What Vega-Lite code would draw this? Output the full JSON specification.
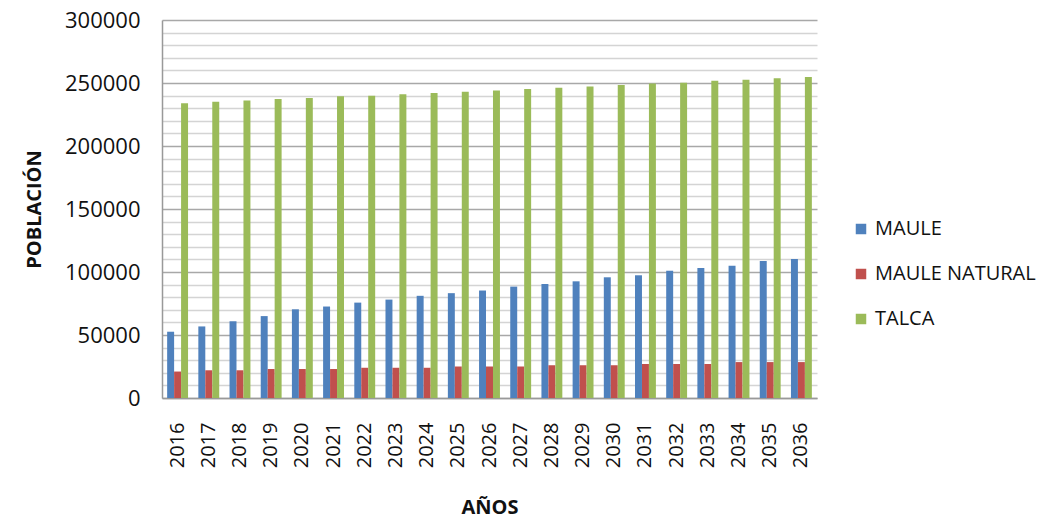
{
  "$schema": "https://vega.github.io/schema/vega-lite/v6.json",
  "width": 655,
  "height": 378,
  "autosize": {"type": "none"},
  "padding": {"left": 162, "top": 20, "right": 238, "bottom": 129},
  "background": "white",
  "config": {"font": "Open Sans", "view": {"stroke": null}},
  "data": {"values": [
    {"year": "2016", "serie": "MAULE", "value": 52600},
    {"year": "2017", "serie": "MAULE", "value": 56800},
    {"year": "2018", "serie": "MAULE", "value": 60900},
    {"year": "2019", "serie": "MAULE", "value": 65000},
    {"year": "2020", "serie": "MAULE", "value": 70400},
    {"year": "2021", "serie": "MAULE", "value": 72600},
    {"year": "2022", "serie": "MAULE", "value": 75700},
    {"year": "2023", "serie": "MAULE", "value": 78100},
    {"year": "2024", "serie": "MAULE", "value": 81100},
    {"year": "2025", "serie": "MAULE", "value": 83200},
    {"year": "2026", "serie": "MAULE", "value": 85300},
    {"year": "2027", "serie": "MAULE", "value": 88400},
    {"year": "2028", "serie": "MAULE", "value": 90500},
    {"year": "2029", "serie": "MAULE", "value": 92600},
    {"year": "2030", "serie": "MAULE", "value": 95800},
    {"year": "2031", "serie": "MAULE", "value": 97400},
    {"year": "2032", "serie": "MAULE", "value": 101000},
    {"year": "2033", "serie": "MAULE", "value": 103200},
    {"year": "2034", "serie": "MAULE", "value": 105000},
    {"year": "2035", "serie": "MAULE", "value": 108700},
    {"year": "2036", "serie": "MAULE", "value": 110300},
    {"year": "2016", "serie": "MAULE NATURAL", "value": 21000},
    {"year": "2017", "serie": "MAULE NATURAL", "value": 22000},
    {"year": "2018", "serie": "MAULE NATURAL", "value": 22000},
    {"year": "2019", "serie": "MAULE NATURAL", "value": 23000},
    {"year": "2020", "serie": "MAULE NATURAL", "value": 23000},
    {"year": "2021", "serie": "MAULE NATURAL", "value": 23000},
    {"year": "2022", "serie": "MAULE NATURAL", "value": 24000},
    {"year": "2023", "serie": "MAULE NATURAL", "value": 24000},
    {"year": "2024", "serie": "MAULE NATURAL", "value": 24000},
    {"year": "2025", "serie": "MAULE NATURAL", "value": 25000},
    {"year": "2026", "serie": "MAULE NATURAL", "value": 25000},
    {"year": "2027", "serie": "MAULE NATURAL", "value": 25000},
    {"year": "2028", "serie": "MAULE NATURAL", "value": 26000},
    {"year": "2029", "serie": "MAULE NATURAL", "value": 26000},
    {"year": "2030", "serie": "MAULE NATURAL", "value": 26000},
    {"year": "2031", "serie": "MAULE NATURAL", "value": 27000},
    {"year": "2032", "serie": "MAULE NATURAL", "value": 27000},
    {"year": "2033", "serie": "MAULE NATURAL", "value": 27000},
    {"year": "2034", "serie": "MAULE NATURAL", "value": 28500},
    {"year": "2035", "serie": "MAULE NATURAL", "value": 28500},
    {"year": "2036", "serie": "MAULE NATURAL", "value": 28500},
    {"year": "2016", "serie": "TALCA", "value": 233900},
    {"year": "2017", "serie": "TALCA", "value": 235200},
    {"year": "2018", "serie": "TALCA", "value": 236200},
    {"year": "2019", "serie": "TALCA", "value": 237300},
    {"year": "2020", "serie": "TALCA", "value": 238100},
    {"year": "2021", "serie": "TALCA", "value": 239400},
    {"year": "2022", "serie": "TALCA", "value": 239900},
    {"year": "2023", "serie": "TALCA", "value": 241000},
    {"year": "2024", "serie": "TALCA", "value": 242100},
    {"year": "2025", "serie": "TALCA", "value": 243100},
    {"year": "2026", "serie": "TALCA", "value": 244100},
    {"year": "2027", "serie": "TALCA", "value": 245200},
    {"year": "2028", "serie": "TALCA", "value": 246300},
    {"year": "2029", "serie": "TALCA", "value": 247300},
    {"year": "2030", "serie": "TALCA", "value": 248400},
    {"year": "2031", "serie": "TALCA", "value": 249700},
    {"year": "2032", "serie": "TALCA", "value": 250200},
    {"year": "2033", "serie": "TALCA", "value": 251800},
    {"year": "2034", "serie": "TALCA", "value": 252600},
    {"year": "2035", "serie": "TALCA", "value": 253700},
    {"year": "2036", "serie": "TALCA", "value": 254800}
  ]},
  "mark": {"type": "bar"},
  "encoding": {
    "x": {
      "field": "year", "type": "ordinal",
      "scale": {"paddingInner": 0.33, "paddingOuter": 0.165},
      "axis": {
        "title": "AÑOS", "labelAngle": -90, "labelFontSize": 20, "labelColor": "#111",
        "labelPadding": 24, "ticks": false, "domainColor": "#999", "domainWidth": 1.5,
        "titleFontSize": 20, "titleFontWeight": "bold", "titleColor": "#111", "titlePadding": 30,
        "grid": false
      }
    },
    "xOffset": {"field": "serie", "type": "nominal"},
    "y": {
      "field": "value", "type": "quantitative",
      "scale": {"domain": [0, 300000], "nice": false},
      "axis": {
        "title": "POBLACIÓN",
        "values": [0,10000,20000,30000,40000,50000,60000,70000,80000,90000,100000,110000,120000,130000,140000,150000,160000,170000,180000,190000,200000,210000,220000,230000,240000,250000,260000,270000,280000,290000,300000],
        "labelExpr": "datum.value % 50000 === 0 ? format(datum.value, 'd') : ''",
        "labelFontSize": 22, "labelColor": "#111", "labelPadding": 22, "ticks": false,
        "domainColor": "#999", "domainWidth": 1.5,
        "gridColor": {"condition": {"test": "datum.value % 50000 === 0", "value": "#a8a8a8"}, "value": "#d4d4d4"},
        "gridWidth": 1.5,
        "titleFontSize": 20, "titleFontWeight": "bold", "titleColor": "#111", "titlePadding": 20
      }
    },
    "color": {
      "field": "serie", "type": "nominal",
      "scale": {"domain": ["MAULE", "MAULE NATURAL", "TALCA"], "range": ["#4F81BD", "#C0504D", "#9BBB59"]},
      "legend": {
        "title": null, "orient": "none", "legendX": 689, "legendY": 199,
        "symbolType": "square", "symbolSize": 110, "symbolStrokeWidth": 0,
        "labelFontSize": 20, "labelColor": "#111", "rowPadding": 25, "labelOffset": 4, "labelLimit": 400
      }
    }
  }
}
